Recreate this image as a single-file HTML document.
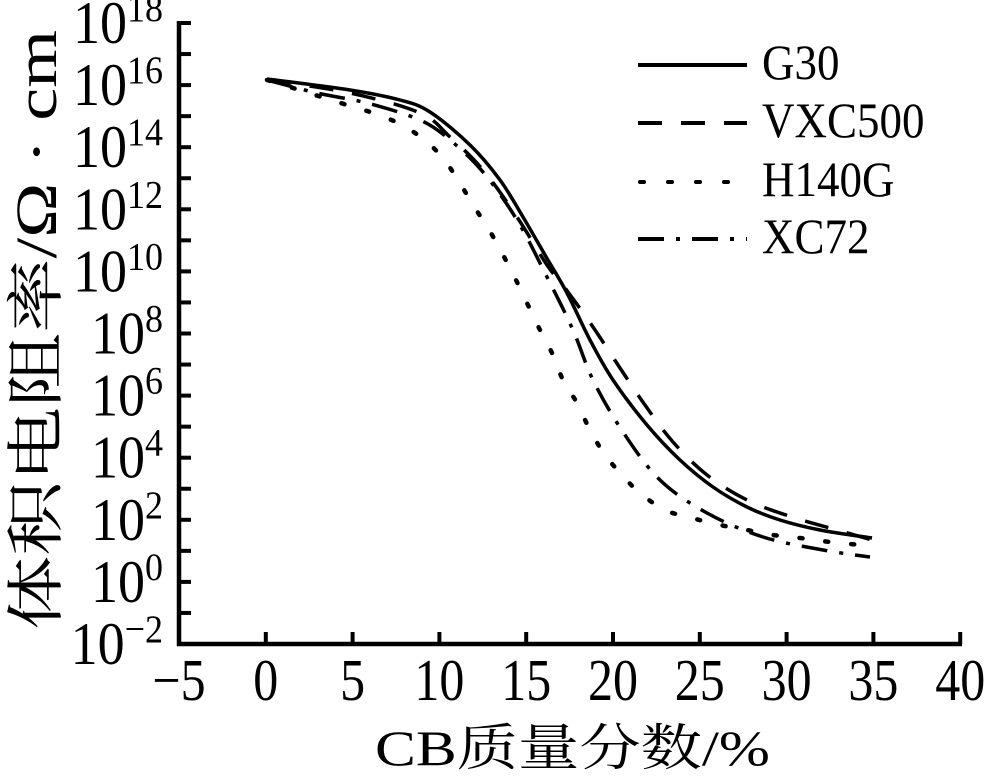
<!DOCTYPE html>
<html><head><meta charset="utf-8"><style>
html,body{margin:0;padding:0;background:#fff;}
svg{display:block;}
text{font-family:"Liberation Serif","Noto Serif CJK SC",serif;fill:#000;}
</style></head><body>
<svg id="s" width="988" height="779" viewBox="0 0 988 779" xmlns="http://www.w3.org/2000/svg">
<g stroke="#000" stroke-width="4.5" fill="none" stroke-linecap="butt">
<line x1="179" y1="21" x2="179" y2="646"/>
<line x1="177" y1="644" x2="962" y2="644"/>
</g>
<g id="ticks" stroke="#000" stroke-width="4"></g>
<g id="labels"></g>
<g id="curves" fill="none" stroke="#000" stroke-width="3.5"></g>
<g stroke="#000" stroke-width="4" fill="none">
<line x1="638" y1="65" x2="747" y2="65"/>
<line x1="638" y1="123" x2="747" y2="123" stroke-dasharray="24,19"/>
<line x1="640" y1="182" x2="747" y2="182" stroke-dasharray="4,24" stroke-linecap="round"/>
<line x1="638" y1="239" x2="747" y2="239" stroke-dasharray="26,12,4,12"/>
</g>
<g font-size="45">
<text x="762" y="79" transform="translate(762,79) scale(1,1.1) translate(-762,-79)">G30</text>
<text x="762" y="137" transform="translate(762,137) scale(1,1.1) translate(-762,-137)">VXC500</text>
<text x="762" y="196" transform="translate(762,196) scale(1,1.1) translate(-762,-196)">H140G</text>
<text x="762" y="253" transform="translate(762,253) scale(1,1.1) translate(-762,-253)">XC72</text>
</g>
<text x="375" y="765" font-size="50" textLength="395" lengthAdjust="spacingAndGlyphs">CB质量分数/%</text>
<text transform="translate(56,630) rotate(-90)" font-size="58" textLength="600" lengthAdjust="spacingAndGlyphs">体积电阻率/Ω · cm</text>
</svg>
<script>
var NS="http://www.w3.org/2000/svg";
function el(t,a,p,txt){var e=document.createElementNS(NS,t);for(var k in a)e.setAttribute(k,a[k]);if(txt!=null)e.textContent=txt;document.getElementById(p).appendChild(e);return e;}
function Y(d){return 644-(d+2)*31.05;}
function X(v){return 179+(v+5)*17.36;}
for(var d=-2;d<=18;d++){var y=Y(d);el("line",{x1:179,y1:y,x2:191,y2:y},"ticks");}
for(var v=0;v<=40;v+=5){var x=X(v);el("line",{x1:x,y1:644,x2:x,y2:632},"ticks");}
for(var d=-2;d<=18;d+=2){var y=Y(d)+20;
 var sup=d<0?"\u2212"+(-d):""+d;
 var sw=(d<0?36*0.564+18:(sup.length*18));
 var sx=163-sw;
 el("text",{x:sx,y:y,"font-size":54,"text-anchor":"end",transform:"translate("+sx+","+y+") scale(1,1.12) translate("+(-sx)+","+(-y)+")"},"labels","10");
 el("text",{x:163,y:y-22,"font-size":36,"text-anchor":"end",transform:"translate(163,"+(y-22)+") scale(1,1.1) translate(-163,"+(-(y-22))+")"},"labels",sup);
}
for(var v=-5;v<=40;v+=5){var x=X(v);var y=700;
 el("text",{x:x,y:y,"font-size":50,"text-anchor":"middle",transform:"translate("+x+","+y+") scale(1,1.18) translate("+(-x)+","+(-y)+")"},"labels",v<0?"\u2212"+(-v):""+v);}
function path(p){var pts=[];for(var i=0;i<p.length;i+=2)pts.push([p[i],p[i+1]]);
 var d="M"+pts[0][0]+","+pts[0][1];
 for(var i=0;i<pts.length-1;i++){var p0=pts[i-1]||pts[i],p1=pts[i],p2=pts[i+1],p3=pts[i+2]||p2;
  d+=" C"+(p1[0]+(p2[0]-p0[0])/6)+","+(p1[1]+(p2[1]-p0[1])/6)+" "+(p2[0]-(p3[0]-p1[0])/6)+","+(p2[1]-(p3[1]-p1[1])/6)+" "+p2[0]+","+p2[1];}
 return d;}
var G30=[267,79,350,90,400,100,430,112,470,145,500,180,523,217,545,255,567,293,590,340,613,380,647,425,680,460,713,487,747,507,780,520,820,530,872,538];
var VXC=[267,80,350,93,420,113,450,137,483,170,517,217,547,265,568,292,593,327,620,368,645,405,673,442,707,475,747,500,792,517,837,530,872,540];
var H=[267,80,293,88,347,105,373,113,398,123,422,138,442,157,458,180,473,205,488,228,502,253,515,278,527,303,539,328,552,353,563,380,577,403,589,428,603,452,620,473,640,493,665,510,692,518,720,525,747,530,773,535,800,538,830,542,872,546];
var XC=[267,80,317,93,367,103,420,120,450,140,483,172,517,220,547,277,573,330,593,380,623,432,660,480,707,513,763,537,823,550,870,557];
el("path",{d:path(G30)},"curves");
el("path",{d:path(VXC),"stroke-dasharray":"24,19"},"curves");
el("path",{d:path(H),"stroke-dasharray":"3,23","stroke-linecap":"round","stroke-width":"4.5"},"curves");
el("path",{d:path(XC),"stroke-dasharray":"26,12,4,12"},"curves");
</script>
</body></html>
